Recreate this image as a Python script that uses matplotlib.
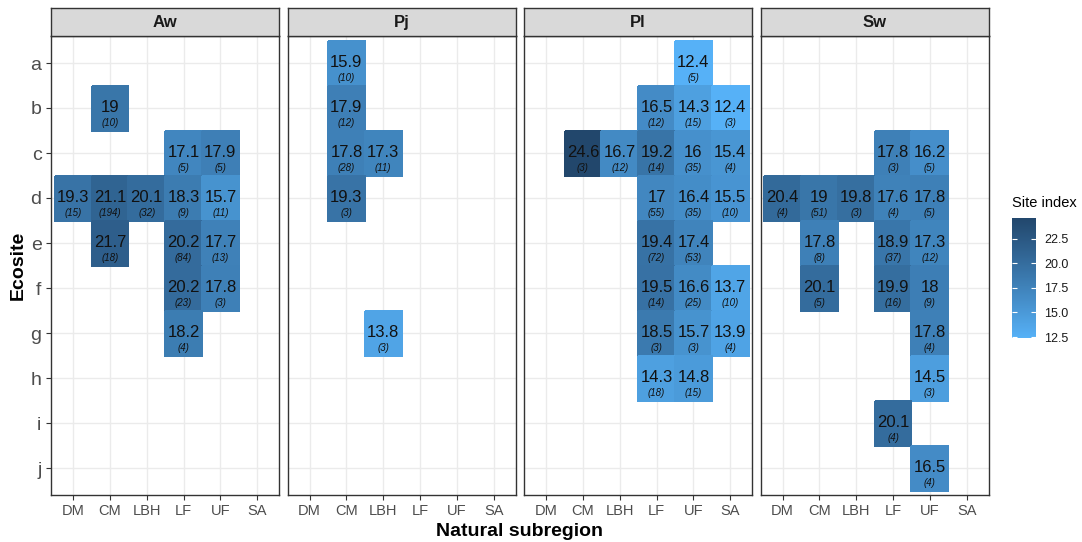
import numpy as np
import matplotlib
matplotlib.use('Agg')
import matplotlib.pyplot as plt
from matplotlib.colors import ListedColormap, Normalize, to_rgb
from matplotlib.cm import ScalarMappable

plt.rcParams['font.family'] = ['Liberation Sans', 'DejaVu Sans']

subregions = ['DM', 'CM', 'LBH', 'LF', 'UF', 'SA']
ecosites = ['a', 'b', 'c', 'd', 'e', 'f', 'g', 'h', 'i', 'j']
species_order = ['Aw', 'Pj', 'Pl', 'Sw']

species = ['Aw'] * 14 + ['Pj'] * 6 + ['Pl'] * 22 + ['Sw'] * 17
ecosite = ['b', 'c', 'c', 'd', 'd', 'd', 'd', 'd', 'e', 'e', 'e', 'f', 'f', 'g',
           'a', 'b', 'c', 'c', 'd', 'g',
           'a', 'b', 'b', 'b', 'c', 'c', 'c', 'c', 'c', 'd', 'd', 'd', 'e', 'e',
           'f', 'f', 'f', 'g', 'g', 'g', 'h', 'h',
           'c', 'c', 'd', 'd', 'd', 'd', 'd', 'e', 'e', 'e', 'f', 'f', 'f',
           'g', 'h', 'i', 'j']
subregion = ['CM', 'LF', 'UF', 'DM', 'CM', 'LBH', 'LF', 'UF', 'CM', 'LF', 'UF', 'LF', 'UF', 'LF',
             'CM', 'CM', 'CM', 'LBH', 'CM', 'LBH',
             'UF', 'LF', 'UF', 'SA', 'CM', 'LBH', 'LF', 'UF', 'SA', 'LF', 'UF', 'SA', 'LF', 'UF',
             'LF', 'UF', 'SA', 'LF', 'UF', 'SA', 'LF', 'UF',
             'LF', 'UF', 'DM', 'CM', 'LBH', 'LF', 'UF', 'CM', 'LF', 'UF', 'CM', 'LF', 'UF',
             'UF', 'UF', 'LF', 'UF']
site_index = [19, 17.1, 17.9, 19.3, 21.1, 20.1, 18.3, 15.7, 21.7, 20.2, 17.7, 20.2, 17.8, 18.2,
              15.9, 17.9, 17.8, 17.3, 19.3, 13.8,
              12.4, 16.5, 14.3, 12.4, 24.6, 16.7, 19.2, 16, 15.4, 17, 16.4, 15.5, 19.4, 17.4,
              19.5, 16.6, 13.7, 18.5, 15.7, 13.9, 14.3, 14.8,
              17.8, 16.2, 20.4, 19, 19.8, 17.6, 17.8, 17.8, 18.9, 17.3, 20.1, 19.9, 18,
              17.8, 14.5, 20.1, 16.5]
n_plots = [10, 5, 5, 15, 194, 32, 9, 11, 18, 84, 13, 23, 3, 4,
           10, 12, 28, 11, 3, 3,
           5, 12, 15, 3, 3, 12, 14, 35, 4, 55, 35, 10, 72, 53,
           14, 25, 10, 3, 3, 4, 18, 15,
           3, 5, 4, 51, 3, 4, 5, 8, 37, 12, 5, 16, 9,
           4, 3, 4, 4]
cbar_ticks = [12.5, 15.0, 17.5, 20.0, 22.5]


# gradient interpolated in Lab space (like ggplot)
M = np.array([[0.4124, 0.3576, 0.1805],
              [0.2126, 0.7152, 0.0722],
              [0.0193, 0.1192, 0.9505]])
WHITE = np.array([0.95047, 1.0, 1.08883])

def hex_to_lab(h):
    rgb = np.array(to_rgb(h))
    lin = np.where(rgb <= 0.04045, rgb / 12.92, ((rgb + 0.055) / 1.055) ** 2.4)
    xyz = M @ lin / WHITE
    f = np.where(xyz > (6 / 29) ** 3, np.cbrt(xyz), xyz / (3 * (6 / 29) ** 2) + 4 / 29)
    return np.array([116 * f[1] - 16, 500 * (f[0] - f[1]), 200 * (f[1] - f[2])])

def lab_to_rgb(lab):
    fy = (lab[0] + 16) / 116
    f = np.array([fy + lab[1] / 500, fy, fy - lab[2] / 200])
    xyz = np.where(f > 6 / 29, f ** 3, 3 * (6 / 29) ** 2 * (f - 4 / 29)) * WHITE
    lin = np.clip(np.linalg.solve(M, xyz), 0, 1)
    rgb = np.where(lin <= 0.0031308, lin * 12.92, 1.055 * lin ** (1 / 2.4) - 0.055)
    return np.clip(rgb, 0, 1)

lo, hi = hex_to_lab('#56B1F7'), hex_to_lab('#22476C')
cmap = ListedColormap([lab_to_rgb(lo + t * (hi - lo)) for t in np.linspace(0, 1, 256)])
norm = Normalize(vmin=min(site_index), vmax=max(site_index))

W, H = 1082, 542
fig = plt.figure(figsize=(W / 100, H / 100), dpi=100)

panel_left, panel_w, panel_step = 51, 228.3, 236.5
panel_top, panel_bottom = 36, 495
strip_h = 28.5

narrow = ['Liberation Sans Narrow', 'Liberation Sans']

for k, sp in enumerate(species_order):
    x0 = (panel_left + k * panel_step) / W
    ax = fig.add_axes([x0, (H - panel_bottom) / H, panel_w / W, (panel_bottom - panel_top) / H])
    grid = np.full((len(ecosites), len(subregions)), np.nan)
    idx = [i for i, s in enumerate(species) if s == sp]
    for i in idx:
        grid[ecosites.index(ecosite[i]), subregions.index(subregion[i])] = site_index[i]
    ax.pcolormesh(np.arange(0.5, len(subregions) + 1), np.arange(0.5, len(ecosites) + 1),
                  np.ma.masked_invalid(grid), cmap=cmap, norm=norm, edgecolor='face', lw=0.3, zorder=2)
    for i in idx:
        x = subregions.index(subregion[i]) + 1
        y = ecosites.index(ecosite[i]) + 1
        ax.text(x, y - 0.02, f'{site_index[i]:g}', ha='center', va='center', fontsize=12,
                family=narrow, color='#111111', zorder=3)
        ax.text(x, y + 0.34, f'({n_plots[i]})', ha='center', va='center', fontsize=7,
                style='italic', family=narrow, color='#111111', zorder=3)

    ax.set_xlim(0.4, len(subregions) + 0.6)
    ax.set_ylim(len(ecosites) + 0.6, 0.4)
    ax.set_xticks(range(1, len(subregions) + 1))
    ax.set_xticklabels(subregions)
    ax.set_yticks(range(1, len(ecosites) + 1))
    ax.set_yticklabels(ecosites)
    ax.grid(color='#EBEBEB', lw=1)
    ax.set_axisbelow(True)
    for s in ax.spines.values():
        s.set_color('#333333')
        s.set_linewidth(1)
    ax.tick_params(axis='x', length=3.8, width=0.8, color='#333333', labelsize=10.5,
                   labelcolor='#4D4D4D', pad=3)
    if k == 0:
        ax.tick_params(axis='y', length=3.8, width=0.8, color='#333333', labelsize=14,
                       labelcolor='#4D4D4D', pad=3)
    else:
        ax.tick_params(axis='y', left=False, labelleft=False)

    strip = fig.add_axes([x0, (H - panel_top) / H, panel_w / W, strip_h / H])
    strip.set_facecolor('#D9D9D9')
    strip.set_xticks([])
    strip.set_yticks([])
    for s in strip.spines.values():
        s.set_color('#333333')
        s.set_linewidth(1)
    strip.text(0.5, 0.47, sp, ha='center', va='center', fontsize=12, fontweight='bold',
               color='#1A1A1A', transform=strip.transAxes)

fig.text(18 / W, 1 - 265.5 / H, 'Ecosite', rotation=90, ha='center', va='center',
         fontsize=14, fontweight='bold')
fig.text(520 / W, 1 - 531 / H, 'Natural subregion', ha='center', va='center',
         fontsize=14, fontweight='bold')

# legend
fig.text(1012.5 / W, 1 - 203 / H, 'Site index', ha='left', va='center', fontsize=10.5)
cax = fig.add_axes([1012 / W, 1 - 338 / H, 24 / W, 120 / H])
cb = fig.colorbar(ScalarMappable(norm=norm, cmap=cmap), cax=cax)
cb.outline.set_visible(False)
cb.set_ticks(cbar_ticks)
cax.tick_params(length=0, labelsize=9, labelcolor='#1A1A1A', pad=6)
cax.hlines(cbar_ticks, 0, 0.2, colors='white', lw=0.8)
cax.hlines(cbar_ticks, 0.8, 1, colors='white', lw=0.8)

fig.savefig('out.png', dpi=100)
